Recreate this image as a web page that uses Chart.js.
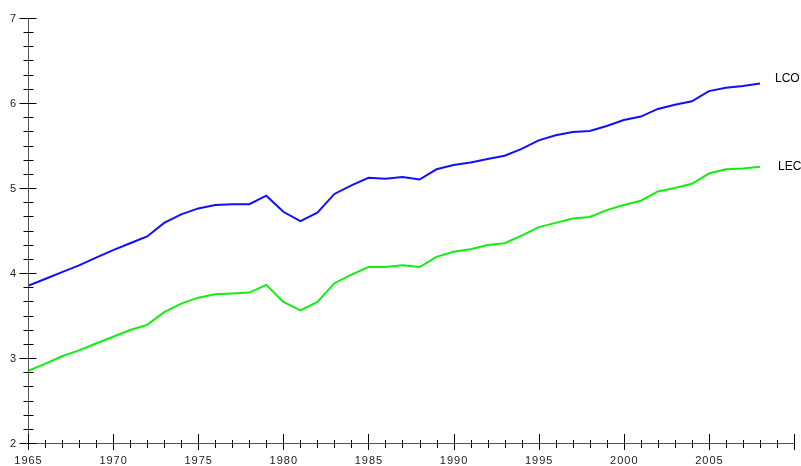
<!DOCTYPE html>
<html>
<head>
<meta charset="utf-8">
<style>
  html, body { margin: 0; padding: 0; background: #fff; }
  #wrap { width: 801px; height: 466px; }
</style>
<script src="https://cdn.jsdelivr.net/npm/chart.js@4/dist/chart.umd.min.js"></script>
</head>
<body>
<div id="wrap"><canvas id="c" width="801" height="466"></canvas></div>
<script>
const years = [1965,1966,1967,1968,1969,1970,1971,1972,1973,1974,1975,1976,1977,1978,1979,1980,1981,1982,1983,1984,1985,1986,1987,1988,1989,1990,1991,1992,1993,1994,1995,1996,1997,1998,1999,2000,2001,2002,2003,2004,2005,2006,2007,2008];
const lco = [3.85,3.93,4.01,4.09,4.18,4.27,4.35,4.43,4.59,4.69,4.76,4.80,4.81,4.81,4.91,4.72,4.61,4.71,4.93,5.03,5.12,5.11,5.13,5.10,5.22,5.27,5.30,5.34,5.38,5.46,5.56,5.62,5.66,5.67,5.73,5.80,5.84,5.93,5.98,6.02,6.14,6.18,6.20,6.23];
const lec = [2.85,2.93,3.02,3.09,3.17,3.25,3.33,3.39,3.54,3.64,3.71,3.75,3.76,3.77,3.86,3.66,3.56,3.66,3.88,3.98,4.07,4.07,4.09,4.07,4.19,4.25,4.28,4.33,4.35,4.44,4.54,4.59,4.64,4.66,4.74,4.80,4.85,4.96,5.00,5.05,5.17,5.22,5.23,5.25];
const seriesNames = ['LCO', 'LEC'];
const xTickLabels = [1965,1970,1975,1980,1985,1990,1995,2000,2005];
const yTickLabels = [2,3,4,5,6,7];

const FONT = '11px "Liberation Sans", Arial, sans-serif';

// Draws the crossing tick marks, axis lines, tick labels and series names
const axesPlugin = {
  id: 'crossAxes',
  afterDatasetsDraw(chart) {
    const ctx = chart.ctx;
    const xs = chart.scales.x, ys = chart.scales.y;
    const x0 = xs.getPixelForValue(xs.min);
    const x1 = xs.getPixelForValue(xs.max);
    const y0 = ys.getPixelForValue(ys.min);
    const y1 = ys.getPixelForValue(ys.max);
    ctx.save();
    ctx.lineWidth = 1;
    // axis lines
    ctx.strokeStyle = '#555';
    ctx.beginPath();
    ctx.moveTo(Math.round(x0) + 0.5, y1);
    ctx.lineTo(Math.round(x0) + 0.5, y0);
    ctx.moveTo(x0, Math.round(y0) + 0.5);
    ctx.lineTo(x1, Math.round(y0) + 0.5);
    ctx.stroke();

    ctx.strokeStyle = '#000';
    ctx.beginPath();
    // y ticks: major on integers, minor every 1/6
    for (let v = ys.min; v <= ys.max + 1e-9; v += 1) {
      for (let k = 0; k < 6; k++) {
        const val = v + k / 6;
        if (val > ys.max + 1e-9) break;
        const py = Math.round(ys.getPixelForValue(val)) + 0.5;
        const major = k === 0;
        const px = Math.round(x0) + 0.5;
        ctx.moveTo(px - (major ? 9 : 5), py);
        ctx.lineTo(px + (major ? 8 : 5), py);
      }
    }
    // x ticks: every year, major every 5
    for (let yr = xs.min; yr <= xs.max; yr++) {
      const px = Math.round(xs.getPixelForValue(yr)) + 0.5;
      const major = (yr - xs.min) % 5 === 0;
      const py = Math.round(y0);
      ctx.moveTo(px, py - (major ? 9 : 3));
      ctx.lineTo(px, py + (major ? 7 : 5));
    }
    ctx.stroke();

    // tick labels
    ctx.fillStyle = '#222';
    ctx.font = FONT;
    ctx.letterSpacing = '1px';
    ctx.textAlign = 'right';
    ctx.textBaseline = 'middle';
    yTickLabels.forEach(v => {
      ctx.fillText(String(v), x0 - 11, ys.getPixelForValue(v) + 0.5);
    });
    ctx.textAlign = 'center';
    ctx.textBaseline = 'top';
    xTickLabels.forEach(v => {
      ctx.fillText(String(v), xs.getPixelForValue(v) + 0.5, y0 + 12);
    });

    // series names beside the last point of each line
    ctx.letterSpacing = '0px';
    ctx.fillStyle = '#000';
    ctx.font = '12px "Liberation Sans", Arial, sans-serif';
    ctx.textAlign = 'left';
    ctx.textBaseline = 'middle';
    const offs = [[15, -5], [18, 0]];
    chart.data.datasets.forEach((ds, i) => {
      const last = ds.data[ds.data.length - 1];
      ctx.fillText(ds.label, xs.getPixelForValue(last.x) + offs[i][0], ys.getPixelForValue(last.y) + offs[i][1]);
    });
    ctx.restore();
  }
};

const toPoints = arr => years.map((yr, i) => ({ x: yr, y: arr[i] }));

new Chart(document.getElementById('c'), {
  type: 'line',
  data: {
    datasets: [
      { label: seriesNames[0], data: toPoints(lco), borderColor: '#1010ff', borderWidth: 2, pointRadius: 0, tension: 0, fill: false },
      { label: seriesNames[1], data: toPoints(lec), borderColor: '#10f010', borderWidth: 2, pointRadius: 0, tension: 0, fill: false }
    ]
  },
  options: {
    responsive: false,
    animation: false,
    devicePixelRatio: 1,
    layout: { padding: { left: 28, top: 18, right: 7, bottom: 23 } },
    plugins: { legend: { display: false }, tooltip: { enabled: false } },
    scales: {
      x: { type: 'linear', min: 1965, max: 2010, display: false },
      y: { type: 'linear', min: 2, max: 7, display: false }
    }
  },
  plugins: [axesPlugin]
});
</script>
</body>
</html>
